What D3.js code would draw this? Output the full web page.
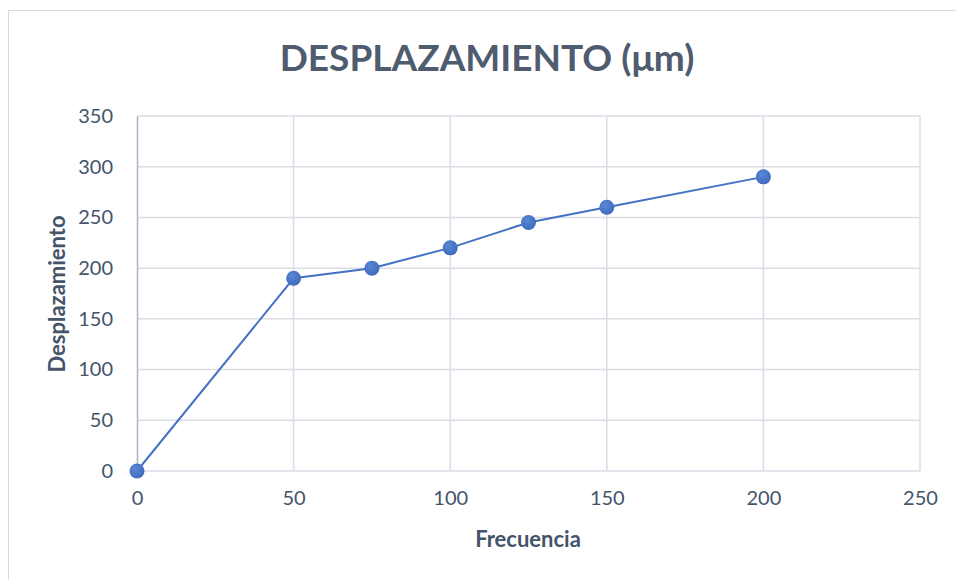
<!DOCTYPE html>
<html><head><meta charset="utf-8">
<script src="https://cdn.jsdelivr.net/npm/d3@7"></script>
<style>body{margin:0;background:#fff}svg{display:block}text{font-family:Lato,"Open Sans",sans-serif}</style>
</head><body>
<svg id="c" width="956" height="580"></svg>
<script>
const title = "DESPLAZAMIENTO (μm)";
const xLabel = "Frecuencia";
const yLabel = "Desplazamiento";
const frecuencia = [0, 50, 75, 100, 125, 150, 200];
const desplazamiento = [0, 190, 200, 220, 245, 260, 290];
const xTicks = [0, 50, 100, 150, 200, 250];
const yTicks = [0, 50, 100, 150, 200, 250, 300, 350];

const svg = d3.select("#c");
const m = {l:137, r:920, t:116, b:471};
const x = d3.scaleLinear().domain([0,250]).range([m.l, m.r]);
const y = d3.scaleLinear().domain([0,350]).range([m.b, m.t]);

svg.append("rect").attr("x",8.5).attr("y",10.5).attr("width",1200).attr("height",1200)
  .attr("fill","none").attr("stroke","#D9D9D9");

const grid = svg.append("g");
grid.selectAll("line.h").data(yTicks).join("line").attr("class","h")
  .attr("x1",m.l).attr("x2",m.r).attr("y1",d=>y(d)).attr("y2",d=>y(d))
  .attr("stroke","#D9DEE6").attr("stroke-width",1.5);
grid.selectAll("line.v").data(xTicks.filter(d=>d>0)).join("line").attr("class","v")
  .attr("x1",d=>x(d)).attr("x2",d=>x(d)).attr("y1",m.t).attr("y2",m.b)
  .attr("stroke","#D9DEE6").attr("stroke-width",1.5);

const yAxis = svg.append("g").attr("transform",`translate(${m.l},0)`)
  .call(d3.axisLeft(y).tickValues(yTicks).tickSize(0).tickPadding(24));
yAxis.select(".domain").attr("stroke","#AAB4C6").attr("stroke-width",1.5);
yAxis.selectAll("text").attr("fill","#44546A").style("font-size","20px");

const xAxis = svg.append("g").attr("transform",`translate(0,${m.b})`)
  .call(d3.axisBottom(x).tickValues(xTicks).tickSize(0).tickPadding(20));
xAxis.select(".domain").remove();
xAxis.selectAll("text").attr("fill","#44546A").style("font-size","20px");

const pts = frecuencia.map((f,i)=>[f,desplazamiento[i]]);
svg.append("path").datum(pts)
  .attr("d", d3.line().x(d=>x(d[0])).y(d=>y(d[1])))
  .attr("fill","none").attr("stroke","#4472C4").attr("stroke-width",2);

const defs = svg.append("defs");
const g = defs.append("radialGradient").attr("id","mk").attr("cx","40%").attr("cy","35%").attr("r","65%");
g.append("stop").attr("offset","0%").attr("stop-color","#5B87D6");
g.append("stop").attr("offset","100%").attr("stop-color","#3F6BBD");
svg.selectAll("circle.p").data(pts).join("circle").attr("class","p")
  .attr("cx",d=>x(d[0])).attr("cy",d=>y(d[1])).attr("r",7.5)
  .attr("fill","url(#mk)");

svg.append("text").attr("x",487).attr("y",71).attr("text-anchor","middle")
  .attr("fill","#4F5B6E").style("font-size","37px").style("font-weight","bold").text(title);
svg.append("text").attr("x",528).attr("y",547).attr("text-anchor","middle")
  .attr("fill","#44546A").style("font-size","22px").style("font-weight","bold").text(xLabel);
svg.append("text").attr("transform","translate(65,294) rotate(-90)").attr("text-anchor","middle")
  .attr("fill","#44546A").style("font-size","22px").style("font-weight","bold").text(yLabel);
</script>
</body></html>
